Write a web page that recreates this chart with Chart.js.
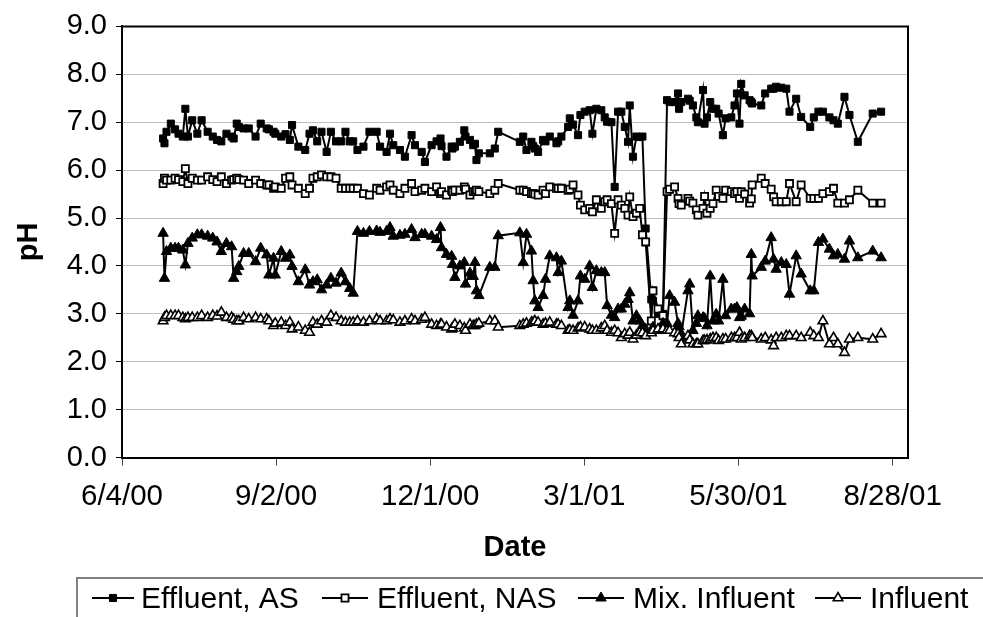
<!DOCTYPE html>
<html>
<head>
<meta charset="utf-8">
<script src="https://cdn.jsdelivr.net/npm/chart.js@4.4.0/dist/chart.umd.min.js"></script>
<style>
  html, body { margin: 0; padding: 0; background: #fff; }
  canvas { display: block; }
</style>
</head>
<body>
<canvas id="chart" width="983" height="617"></canvas>
<script>
// Sampling day, counted in days from 6/4/00
const sampleDays = [
  24.0,24.8,26.0,28.5,31.0,33.0,35.5,37.0,38.5,41.0,44.0,46.5,50.0,53.0,55.5,58.0,61.0,64.0,65.2,67.0,
  68.2,71.0,74.0,78.0,81.0,84.5,85.8,88.5,89.5,93.0,95.5,98.0,99.3,103.0,107.0,109.5,111.5,114.0,116.5,119.5,
  122.0,125.0,128.0,130.5,133.0,135.0,137.5,141.0,144.5,
  148.7,150.7,154.5,156.5,158.4,162.3,165.2,169.1,171.1,175.0,176.9,180.8,183.7,186.0,186.6,189.5,192.5,193.0,194.4,197.3,
  199.9,200.6,203.2,205.1,206.1,207.0,208.4,214.8,217.7,219.7,232.3,234.3,236.2,239.1,240.1,241.1,243.0,245.9,247.3,249.8,
  253.7,254.7,256.6,260.5,261.5,263.4,266.3,267.7,270.2,273.1,274.7,277.0,279.9,281.9,283.3,285.8,287.7,289.7,291.6,293.6,
  295.5,296.5,298.4,300.4,302.3,303.9,305.8,309.1,310.1,313.0,315.9,
  318.3,319.8,322.7,324.7,325.3,326.6,330.5,331.5,333.4,335.4,336.3,339.3,340.2,341.6,343.5,345.1,347.0,348.4,350.9,352.5,
  355.8,357.7,359.1,360.6,361.6,363.6,366.5,367.5,368.0,373.3,375.6,379.1,380.5,382.0,385.0,387.9,389.8,393.7,396.6,401.9,
  404.0,406.7,409.3,413.1,415.5,418.0,421.9,424.8,429.7,438.4,443.3
];

const effluentAS = [
  6.66,6.56,6.8,6.97,6.85,6.76,6.7,7.28,6.7,7.04,6.76,7.04,6.8,6.7,6.63,6.6,6.76,6.7,6.66,6.97,
  6.9,6.87,6.87,6.7,6.97,6.87,6.85,6.8,6.76,6.7,6.75,6.63,6.94,6.49,6.42,6.76,6.83,6.6,6.8,6.38,
  6.8,6.6,6.6,6.8,6.6,6.6,6.42,6.49,6.8,
  6.8,6.49,6.38,6.76,6.52,6.42,6.28,6.73,6.52,6.38,6.17,6.52,6.6,6.66,6.5,6.28,6.49,6.45,6.49,6.59,
  6.83,6.7,6.63,6.52,6.55,6.21,6.35,6.35,6.45,6.8,6.59,6.7,6.42,6.59,6.5,6.45,6.38,6.63,6.6,6.7,
  6.56,6.6,6.7,6.9,7.08,6.95,6.73,7.15,7.22,7.25,6.76,7.28,7.25,7.1,7.01,7.0,5.65,7.22,7.22,6.9,
  6.59,7.35,6.28,6.7,6.69,6.7,4.78,3.3,3.27,3.0,3.0,
  7.46,7.42,7.42,7.6,7.28,7.42,7.49,7.45,7.35,7.1,7.0,7.67,6.97,7.1,7.42,7.28,7.28,7.18,6.73,7.08,
  7.1,7.35,7.6,6.97,7.8,7.56,7.46,7.42,7.39,7.35,7.6,7.7,7.7,7.74,7.72,7.7,7.22,7.49,7.11,6.9,
  7.1,7.22,7.22,7.1,7.04,6.97,7.53,7.15,6.59,7.18,7.22
];

const effluentNAS = [
  5.72,5.83,5.79,5.79,5.83,5.8,5.76,6.03,5.72,5.83,5.79,5.79,5.86,5.8,5.76,5.86,5.72,5.79,5.8,5.83,
  5.8,5.79,5.72,5.79,5.72,5.69,5.69,5.62,5.65,5.62,5.83,5.86,5.69,5.62,5.51,5.62,5.83,5.86,5.9,5.86,
  5.86,5.83,5.62,5.62,5.62,5.62,5.62,5.51,5.48,
  5.62,5.58,5.65,5.69,5.58,5.51,5.62,5.72,5.55,5.58,5.62,5.55,5.65,5.51,5.55,5.48,5.58,5.55,5.58,5.58,
  5.65,5.6,5.48,5.55,5.55,5.58,5.55,5.51,5.58,5.72,5.58,5.58,5.55,5.51,5.51,5.5,5.48,5.58,5.51,5.65,
  5.62,5.62,5.62,5.58,5.6,5.69,5.48,5.27,5.17,5.2,5.13,5.38,5.2,5.34,5.38,5.3,4.68,5.38,5.27,5.2,
  5.06,5.44,5.03,5.1,5.2,4.65,4.5,2.85,3.48,3.1,2.96,
  5.55,5.6,5.65,5.41,5.3,5.27,5.41,5.35,5.31,5.17,5.06,5.2,5.45,5.1,5.2,5.3,5.58,5.45,5.41,5.58,
  5.55,5.51,5.55,5.41,5.55,5.5,5.31,5.4,5.69,5.83,5.72,5.6,5.44,5.34,5.34,5.34,5.72,5.34,5.69,5.41,
  5.41,5.41,5.51,5.55,5.62,5.31,5.31,5.38,5.58,5.31,5.31
];

const mixInfluent = [
  4.68,3.74,4.3,4.37,4.37,4.37,4.33,4.02,4.47,4.58,4.65,4.65,4.62,4.58,4.5,4.3,4.47,4.4,3.74,3.88,
  3.99,4.26,4.26,4.09,4.37,4.23,3.81,4.16,3.81,4.3,4.16,4.23,3.99,3.67,3.92,3.6,3.67,3.71,3.5,3.6,
  3.74,3.64,3.85,3.67,3.53,3.43,4.72,4.68,4.72,
  4.73,4.7,4.72,4.8,4.62,4.64,4.66,4.76,4.59,4.66,4.66,4.62,4.55,4.8,4.38,4.24,4.2,4.03,3.76,4.0,
  4.07,3.62,3.85,3.78,4.07,3.48,3.38,3.97,3.97,4.63,4.69,4.07,4.66,4.31,3.69,3.27,3.13,3.38,3.72,4.21,
  4.17,3.86,4.1,3.13,3.27,2.97,3.27,3.79,3.72,4.0,3.55,3.9,3.86,3.86,3.17,2.97,2.92,3.1,3.1,3.2,
  3.3,3.44,2.85,2.96,2.85,2.75,2.68,2.61,2.72,2.65,2.8,
  2.8,3.38,3.24,2.8,2.73,2.58,3.48,3.62,2.65,2.8,2.96,2.92,2.9,2.75,3.79,2.85,2.99,2.85,3.72,2.96,
  3.1,3.1,3.13,2.92,2.95,3.1,3.0,4.24,3.79,3.97,4.1,4.59,4.14,3.93,4.07,4.03,3.41,4.21,3.83,3.48,
  3.48,4.49,4.56,4.35,4.21,4.24,4.14,4.52,4.17,4.31,4.17
];

const influent = [
  2.85,2.92,2.96,2.96,2.96,2.96,2.92,2.89,2.92,2.92,2.92,2.96,2.92,2.96,2.95,3.03,2.92,2.92,2.88,2.85,
  2.85,2.92,2.89,2.92,2.89,2.89,2.85,2.75,2.8,2.82,2.75,2.82,2.68,2.72,2.65,2.61,2.82,2.78,2.85,2.82,
  2.96,2.92,2.85,2.82,2.82,2.82,2.85,2.82,2.85,
  2.89,2.85,2.85,2.89,2.87,2.82,2.85,2.89,2.85,2.88,2.92,2.78,2.75,2.78,2.78,2.72,2.68,2.7,2.78,2.75,
  2.7,2.65,2.78,2.75,2.75,2.78,2.8,2.85,2.85,2.72,2.75,2.78,2.8,2.82,2.82,2.85,2.82,2.78,2.8,2.82,
  2.78,2.78,2.75,2.65,2.66,2.65,2.7,2.72,2.72,2.68,2.65,2.65,2.7,2.75,2.65,2.61,2.65,2.6,2.5,2.58,
  2.55,2.61,2.47,2.55,2.61,2.6,2.54,2.6,2.65,2.68,2.68,
  2.65,2.65,2.6,2.58,2.5,2.37,2.54,2.45,2.37,2.37,2.37,2.44,2.44,2.45,2.47,2.5,2.5,2.44,2.47,2.47,
  2.5,2.5,2.5,2.61,2.47,2.5,2.54,2.54,2.5,2.47,2.5,2.45,2.33,2.5,2.5,2.54,2.54,2.54,2.5,2.61,
  2.54,2.5,2.85,2.37,2.5,2.37,2.19,2.47,2.5,2.47,2.58
];

// Date axis: one labelled tick every 90 days
const tickLabels = ['6/4/00', '9/2/00', '12/1/00', '3/1/01', '5/30/01', '8/28/01'];
const tickStepDays = 90;
const axisEndDay = 459;

const seriesNames = ['Effluent, AS', 'Effluent, NAS', 'Mix. Influent', 'Influent'];
const seriesValues = [effluentAS, effluentNAS, mixInfluent, influent];

const FONT = "'Liberation Sans', Arial, sans-serif";

// marker look per series: [pointStyle, radius, fill, borderWidth]
const markerLook = [
  ['rect', 5, '#000000', 1],
  ['rect', 5, '#ffffff', 1.8],
  ['triangle', 6, '#000000', 1],
  ['triangle', 5.5, '#ffffff', 1.6]
];

const datasets = seriesNames.map((name, i) => ({
  label: name,
  data: sampleDays.map((d, k) => ({ x: d, y: seriesValues[i][k] })),
  borderColor: '#000000',
  borderWidth: 2,
  backgroundColor: markerLook[i][2],
  pointStyle: markerLook[i][0],
  pointRadius: markerLook[i][1],
  pointBackgroundColor: markerLook[i][2],
  pointBorderColor: '#000000',
  pointBorderWidth: markerLook[i][3],
  tension: 0,
  fill: false,
  order: 4 - i
}));

// top and right edge of the plot frame
const plotFrame = {
  id: 'plotFrame',
  beforeDatasetsDraw(chart) {
    const { ctx, chartArea: a } = chart;
    ctx.save();
    ctx.strokeStyle = '#000';
    ctx.lineWidth = 2;
    ctx.beginPath();
    ctx.moveTo(a.left, a.top);
    ctx.lineTo(a.right, a.top);
    ctx.lineTo(a.right, a.bottom);
    ctx.stroke();
    ctx.restore();
  }
};

function drawMarker(ctx, look, x, y) {
  const [style, r, fill, bw] = look;
  ctx.beginPath();
  if (style === 'rect') {
    const s = Math.SQRT1_2 * r;
    ctx.rect(x - s, y - s, 2 * s, 2 * s);
  } else {
    let rad = 0;
    ctx.moveTo(x + Math.sin(rad) * r, y - Math.cos(rad) * r);
    rad += 2 * Math.PI / 3;
    ctx.lineTo(x + Math.sin(rad) * r, y - Math.cos(rad) * r);
    rad += 2 * Math.PI / 3;
    ctx.lineTo(x + Math.sin(rad) * r, y - Math.cos(rad) * r);
    ctx.closePath();
  }
  ctx.fillStyle = fill;
  ctx.fill();
  ctx.lineWidth = bw;
  ctx.strokeStyle = '#000';
  ctx.stroke();
}

// boxed legend along the bottom edge
const bottomLegend = {
  id: 'bottomLegend',
  afterDraw(chart) {
    const { ctx } = chart;
    const box = { left: 77, top: 578 };
    const lineY = 598;
    const textY = 608;
    const itemX = [
      { x0: 92, x1: 134, tx: 141 },
      { x0: 322, x1: 368, tx: 377 },
      { x0: 578, x1: 624, tx: 633 },
      { x0: 815, x1: 861, tx: 870 }
    ];
    ctx.save();
    ctx.strokeStyle = '#808080';
    ctx.lineWidth = 2;
    ctx.beginPath();
    ctx.moveTo(box.left, chart.height + 2);
    ctx.lineTo(box.left, box.top);
    ctx.lineTo(chart.width + 2, box.top);
    ctx.stroke();

    ctx.font = '30px ' + FONT;
    ctx.fillStyle = '#000';
    ctx.textBaseline = 'alphabetic';
    ctx.textAlign = 'left';
    chart.data.datasets.forEach((ds, i) => {
      const p = itemX[i];
      ctx.strokeStyle = '#000';
      ctx.lineWidth = 2;
      ctx.beginPath();
      ctx.moveTo(p.x0, lineY);
      ctx.lineTo(p.x1, lineY);
      ctx.stroke();
      drawMarker(ctx, markerLook[i], (p.x0 + p.x1) / 2, lineY);
      ctx.fillStyle = '#000';
      ctx.fillText(ds.label, p.tx, textY);
    });
    ctx.restore();
  }
};

new Chart(document.getElementById('chart'), {
  type: 'line',
  data: { datasets },
  plugins: [plotFrame, bottomLegend],
  options: {
    responsive: false,
    animation: false,
    devicePixelRatio: 1,
    layout: { padding: { top: 25, right: 75, left: 0, bottom: 0 } },
    plugins: {
      legend: { display: false },
      tooltip: { enabled: false },
      title: { display: false }
    },
    scales: {
      x: {
        type: 'linear',
        min: 0,
        max: axisEndDay,
        ticks: {
          stepSize: tickStepDays,
          includeBounds: false,
          autoSkip: false,
          maxRotation: 0,
          color: '#000',
          padding: 14,
          font: { family: FONT, size: 29.5 },
          callback: (v) => {
            const idx = Math.round(v / tickStepDays);
            return (Math.abs(v - idx * tickStepDays) < 1e-6 && tickLabels[idx]) ? tickLabels[idx] : '';
          }
        },
        grid: { drawOnChartArea: false, drawTicks: true, tickLength: 8, tickColor: '#444', tickWidth: 1 },
        border: { color: '#000', width: 2 },
        title: {
          display: true,
          text: 'Date',
          color: '#000',
          font: { family: FONT, size: 29, weight: 'bold' },
          padding: { top: 0, bottom: 52 }
        },
        afterFit(scale) { scale.height = 159.5; }
      },
      y: {
        min: 0,
        max: 9,
        ticks: {
          stepSize: 1,
          color: '#000',
          padding: 9,
          font: { family: FONT, size: 29 },
          callback: (v) => Number(v).toFixed(1)
        },
        grid: { color: '#c0c0c0', lineWidth: 1, drawTicks: true, tickLength: 6, tickColor: '#000', tickWidth: 1 },
        border: { color: '#000', width: 2 },
        title: {
          display: true,
          text: 'pH',
          color: '#000',
          font: { family: FONT, size: 29, weight: 'bold' },
          padding: { top: 12, bottom: 0 }
        },
        afterFit(scale) { scale.width = 122; }
      }
    }
  }
});
</script>
</body>
</html>
